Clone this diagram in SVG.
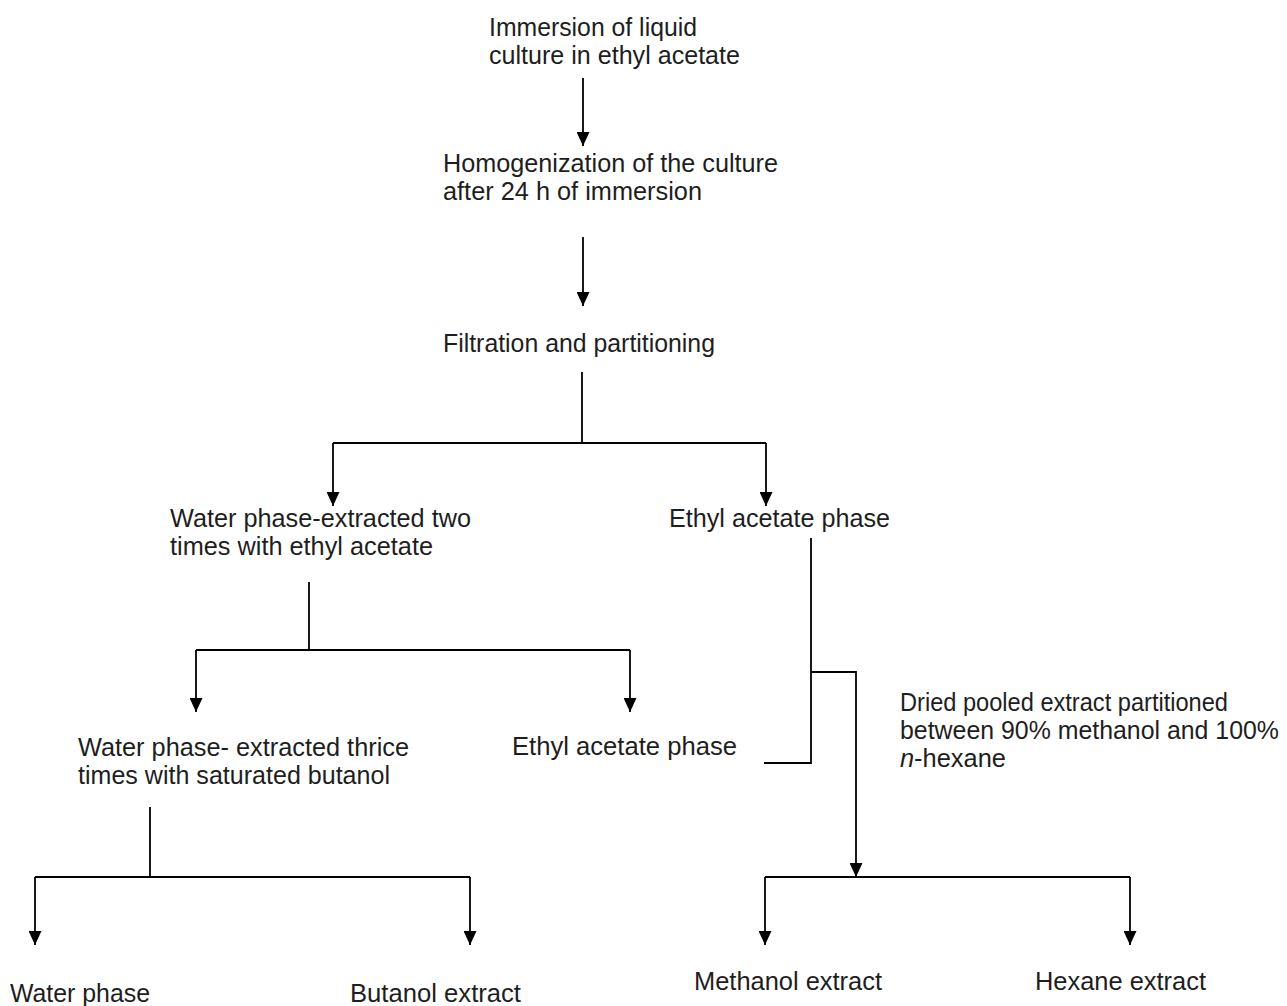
<svg xmlns="http://www.w3.org/2000/svg" width="1287" height="1006" viewBox="0 0 1287 1006">
  <defs>
    <marker id="arr" viewBox="0 0 14 13" refX="14" refY="6.5" markerWidth="14" markerHeight="13" markerUnits="userSpaceOnUse" orient="auto">
      <path d="M0,0 L14,6.5 L0,13 Z" fill="#000"/>
    </marker>
    <style>
      text { font-family: "Liberation Sans", Arial, sans-serif; font-size: 25px; fill: #1e1e1e; }
      text.big { font-size: 26px; }
      .ln { fill: none; stroke: #000; stroke-width: 1.8; }
      .ar { fill: none; stroke: #000; stroke-width: 1.8; marker-end: url(#arr); }
    </style>
  </defs>
  <rect width="1287" height="1006" fill="#fff"/>

  <g id="connectors">
    <path class="ar" d="M583,78 V146"/>
    <path class="ar" d="M583,237 V306"/>
    <path class="ln" d="M582,372 V443"/>
    <path class="ln" d="M333,443 H766"/>
    <path class="ar" d="M333,443 V506"/>
    <path class="ar" d="M766,443 V506"/>
    <path class="ln" d="M309,582 V650"/>
    <path class="ln" d="M196,650 H630"/>
    <path class="ar" d="M196,650 V712"/>
    <path class="ar" d="M630,650 V712"/>
    <path class="ln" d="M811,538 V763 H764"/>
    <path class="ar" d="M811,672 H856 V877"/>
    <path class="ln" d="M150,807 V877"/>
    <path class="ln" d="M35,877 H470"/>
    <path class="ar" d="M35,877 V945"/>
    <path class="ar" d="M470,877 V945"/>
    <path class="ln" d="M765,877 H1130"/>
    <path class="ar" d="M765,877 V945"/>
    <path class="ar" d="M1130,877 V945"/>
  </g>

  <g id="n-immersion">
    <text x="489" y="36" textLength="208" lengthAdjust="spacingAndGlyphs">Immersion of liquid</text>
    <text x="489" y="64" textLength="251" lengthAdjust="spacingAndGlyphs">culture in ethyl acetate</text>
  </g>
  <g id="n-homogenization">
    <text x="443" y="172" textLength="335" lengthAdjust="spacingAndGlyphs">Homogenization of the culture</text>
    <text x="443" y="200" textLength="259" lengthAdjust="spacingAndGlyphs">after 24 h of immersion</text>
  </g>
  <g id="n-filtration">
    <text x="443" y="352" textLength="272" lengthAdjust="spacingAndGlyphs">Filtration and partitioning</text>
  </g>
  <g id="n-water1">
    <text x="170" y="527" textLength="301" lengthAdjust="spacingAndGlyphs">Water phase-extracted two</text>
    <text x="170" y="555" textLength="263" lengthAdjust="spacingAndGlyphs">times with ethyl acetate</text>
  </g>
  <g id="n-ethyl1">
    <text x="669" y="527" textLength="221" lengthAdjust="spacingAndGlyphs">Ethyl acetate phase</text>
  </g>
  <g id="n-water2">
    <text x="78" y="756" textLength="331" lengthAdjust="spacingAndGlyphs">Water phase- extracted thrice</text>
    <text x="78" y="784" textLength="312" lengthAdjust="spacingAndGlyphs">times with saturated butanol</text>
  </g>
  <g id="n-ethyl2">
    <text x="512" y="755" textLength="225" lengthAdjust="spacingAndGlyphs">Ethyl acetate phase</text>
  </g>
  <g id="n-dried">
    <text x="900" y="711" textLength="328" lengthAdjust="spacingAndGlyphs">Dried pooled extract partitioned</text>
    <text x="900" y="739" textLength="379" lengthAdjust="spacingAndGlyphs">between 90% methanol and 100%</text>
    <text x="900" y="767" textLength="106" lengthAdjust="spacingAndGlyphs"><tspan font-style="italic">n</tspan>-hexane</text>
  </g>
  <g id="n-waterphase">
    <text class="big" x="10" y="1002" textLength="140" lengthAdjust="spacingAndGlyphs">Water phase</text>
  </g>
  <g id="n-butanol">
    <text class="big" x="350" y="1002" textLength="171" lengthAdjust="spacingAndGlyphs">Butanol extract</text>
  </g>
  <g id="n-methanol">
    <text class="big" x="694" y="990" textLength="188" lengthAdjust="spacingAndGlyphs">Methanol extract</text>
  </g>
  <g id="n-hexane">
    <text class="big" x="1035" y="990" textLength="171" lengthAdjust="spacingAndGlyphs">Hexane extract</text>
  </g>
</svg>
